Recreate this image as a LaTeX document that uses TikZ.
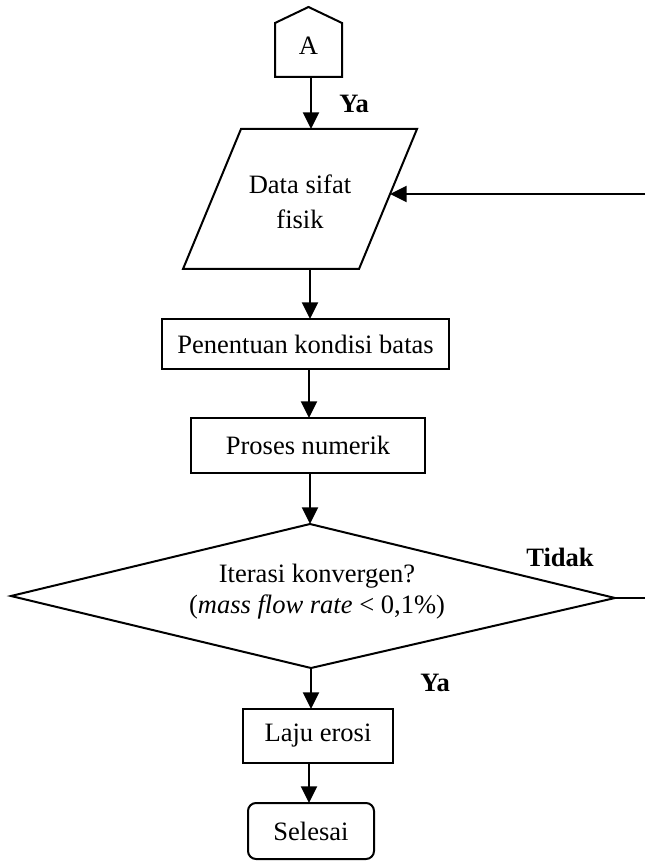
\documentclass[tikz,border=0pt]{standalone}
\usepackage{fontspec}
\setmainfont{Liberation Serif}
\usetikzlibrary{arrows.meta}
\newdimen\px \px=0.75pt
\begin{document}
\begin{tikzpicture}[x=0.75pt,y=-0.75pt,
  line width=1.5pt,
  every node/.style={font=\fontsize{19.9}{26.25}\selectfont},
  flow/.style={-{Triangle[length=12.5pt,width=12pt]}},
  boxnode/.style={draw,rectangle,inner sep=0pt,outer sep=0pt,align=center},
  lbl/.style={font=\fontsize{19.9}{24}\selectfont\bfseries},
  txt/.style={align=center,inner sep=0pt}]
\useasboundingbox (0,0) rectangle (645,862);
% off-page connector A
\draw (275,77) -- (275,23) -- (308.5,7) -- (342,23) -- (342,77) -- cycle;
\node[txt] (A) at (308.5,46) {A};
\coordinate (Abot) at (311,77);
% parallelogram
\draw (241,129) -- (417,129) -- (359,269) -- (183,269) -- cycle;
\node[txt] (data) at (300,202) {Data sifat\\fisik};
\coordinate (ptop) at (311,129);
\coordinate (pbot) at (310,269);
\coordinate (pright) at (390,194);
\coordinate (fbin) at (645,194);
% boxes
\node[boxnode,minimum width=287\px,minimum height=50\px] (pen) at (305.5,344) {Penentuan kondisi batas};
\node[boxnode,minimum width=234\px,minimum height=55\px] (pro) at (308,445.5) {Proses numerik};
% diamond
\coordinate (apex) at (310,524);
\coordinate (dbot) at (311,668);
\coordinate (dright) at (615,598);
\coordinate (dleft) at (11,596);
\coordinate (fbout) at (645,598);
\draw (apex) -- (dright) -- (dbot) -- (dleft) -- cycle;
\node[txt,font=\fontsize{19.9}{31\px}\selectfont] (cond) at (317,592) {Iterasi konvergen?\\(\textit{mass flow rate} < 0,1\%)};
\node[boxnode,minimum width=150\px,minimum height=54\px] (laju) at (318,736) {Laju erosi};
\node[boxnode,rounded corners=6pt,minimum width=126\px,minimum height=56\px] (sel) at (311,831) {Selesai};
% labels
\node[lbl] (ya1) at (354,104) {Ya};
\node[lbl] (tidak) at (560,557) {Tidak};
\node[lbl] (ya2) at (435,683) {Ya};
% connector end points
\coordinate (penN) at (310,319);
\coordinate (penS) at (309,369);
\coordinate (proN) at (309,418);
\coordinate (proS) at (310,473);
\coordinate (lajuN) at (311,709);
\coordinate (lajuS) at (309,763);
\coordinate (selN) at (309,803);
% connectors
\draw[flow] (Abot) -- (ptop);
\draw[flow] (fbin) -- (pright);
\draw[flow] (pbot) -- (penN);
\draw[flow] (penS) -- (proN);
\draw[flow] (proS) -- (apex);
\draw (dright) -- (fbout);
\draw[flow] (dbot) -- (lajuN);
\draw[flow] (lajuS) -- (selN);
\end{tikzpicture}
\end{document}
